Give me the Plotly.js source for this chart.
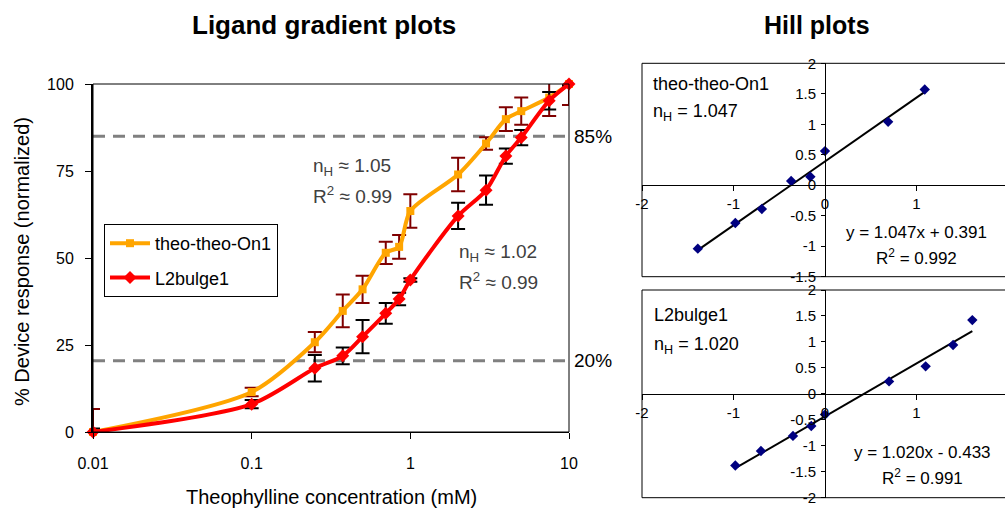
<!DOCTYPE html>
<html><head><meta charset="utf-8">
<script src="https://cdn.plot.ly/plotly-3.0.1.min.js"></script>
<style>html,body{margin:0;padding:0;overflow:hidden;background:#fff}</style>
</head><body><div id="chart" style="width:1012px;height:509px"></div>
<script>
// ---------- data ----------
const concentration = [0.01, 0.1, 0.25, 0.375, 0.5, 0.7, 0.85, 1, 2, 3, 4, 5, 7.5, 10];
const theoResponse  = [0, 11.5, 25.8, 34.8, 41.0, 51.5, 53.2, 63.5, 74.0, 82.9, 89.9, 92.2, 96.1, 100];
const theoErrPlus   = [6.6, 1.2, 2.9, 4.7, 3.9, 3.2, 3.4, 4.8, 4.8, 1.8, 3.4, 3.9, 5.3, 0];
const theoErrMinus  = [0, 1.2, 2.9, 4.7, 3.9, 3.2, 3.4, 4.8, 4.8, 1.8, 3.4, 3.9, 5.3, 6.0];
const l2Response    = [0, 8.0, 18.3, 21.9, 27.4, 34.1, 38.2, 43.7, 62.1, 69.5, 79.3, 84.6, 95.2, 100];
const l2ErrPlus     = [1.0, 1.2, 3.8, 2.4, 4.8, 3.0, 1.8, 0.5, 3.8, 4.2, 2.2, 2.2, 2.5, 0.5];
const l2ErrMinus    = [0, 1.2, 3.8, 2.4, 4.8, 3.0, 1.8, 0.5, 3.8, 4.2, 2.2, 2.2, 2.5, 0.5];
const seriesNames   = ["theo-theo-On1", "L2bulge1"];

const concTicks     = [0.01, 0.1, 1, 10];
const concTickText  = ["0.01", "0.1", "1", "10"];
const responseTicks = [0, 25, 50, 75, 100];
const thresholdLevels = [85, 20.5];
const thresholdLabels = ["85%", "20%"];

const theoLnConc = [-1.39, -0.98, -0.69, -0.37, -0.16, 0, 0.69, 1.09];
const theoHillY  = [-1.04, -0.62, -0.39, 0.07, 0.14, 0.56, 1.04, 1.57];
const l2LnConc   = [-0.98, -0.70, -0.35, -0.15, 0, 0.70, 1.10, 1.40, 1.61];
const l2HillY    = [-1.38, -1.10, -0.81, -0.62, -0.40, 0.24, 0.53, 0.94, 1.42];
const theoFit = {slope: 1.047, intercept: 0.391};
const l2Fit   = {slope: 1.020, intercept: -0.433};

const hillXTicks = [-2, -1, 0, 1, 2];
const hillXTickText = ["-2", "-1", "0", "1", "2"];
const hill1YTicks = [-1.5, -1, -0.5, 0, 0.5, 1, 1.5, 2];
const hill1YTickText = ["-1.5", "-1", "-0.5", "0", "0.5", "1", "1.5", "2"];
const hill2YTicks = [-2, -1.5, -1, -0.5, 0, 0.5, 1, 1.5, 2];
const hill2YTickText = ["-2", "-1.5", "-1", "-0.5", "0", "0.5", "1", "1.5", "2"];

// ---------- layout helpers ----------
const W = 1012, H = 509;
const px = v => v / W;
const py = v => 1 - v / H;
const FONT = "Liberation Sans, Arial, sans-serif";

function fitLine(xs, fit) {
  const x0 = Math.min(...xs), x1 = Math.max(...xs);
  return {x: [x0, x1], y: [fit.slope * x0 + fit.intercept, fit.slope * x1 + fit.intercept]};
}
const t1 = fitLine(theoLnConc, theoFit);
const t2 = fitLine(l2LnConc, l2Fit);

const traces = [
  {x: concentration, y: theoResponse, name: seriesNames[0], mode: "lines+markers",
   xaxis: "x", yaxis: "y", cliponaxis: false, legendgroup: "a",
   line: {color: "#FFA500", width: 4, shape: "spline", smoothing: 0.8},
   marker: {symbol: "square", size: 8, color: "#FFA500"},
   error_y: {type: "data", symmetric: false, array: theoErrPlus, arrayminus: theoErrMinus,
             color: "#800000", thickness: 2, width: 7}},
  {x: concentration, y: l2Response, name: seriesNames[1], mode: "lines+markers",
   xaxis: "x", yaxis: "y", cliponaxis: false, legendgroup: "b",
   line: {color: "#FF0000", width: 4, shape: "spline", smoothing: 0.8},
   marker: {symbol: "diamond", size: 10, color: "#FF0000"},
   error_y: {type: "data", symmetric: false, array: l2ErrPlus, arrayminus: l2ErrMinus,
             color: "#000000", thickness: 2, width: 7}},
  {x: t1.x, y: t1.y, mode: "lines", xaxis: "x2", yaxis: "y2", showlegend: false,
   line: {color: "#000", width: 2}},
  {x: theoLnConc, y: theoHillY, mode: "markers", xaxis: "x2", yaxis: "y2", showlegend: false,
   marker: {symbol: "diamond", size: 8, color: "#000080"}},
  {x: t2.x, y: t2.y, mode: "lines", xaxis: "x3", yaxis: "y3", showlegend: false,
   line: {color: "#000", width: 2}},
  {x: l2LnConc, y: l2HillY, mode: "markers", xaxis: "x3", yaxis: "y3", showlegend: false,
   marker: {symbol: "diamond", size: 8, color: "#000080"}}
];

// hill subplot geometry
const h1 = {xd: [px(642), px(1008)], yd: [py(276.7), py(63.3)], xr: [-2, 2], yr: [-1.5, 2]};
const h2 = {xd: [px(642), px(1008)], yd: [py(497.7), py(290)], xr: [-2, 2], yr: [-2, 2]};
const zeroPos = (dom, rng) => dom[0] + (0 - rng[0]) / (rng[1] - rng[0]) * (dom[1] - dom[0]);

function hillX(h) {
  return {domain: h.xd, range: h.xr, anchor: "free", position: zeroPos(h.yd, h.yr),
    tickvals: hillXTicks, ticktext: hillXTickText, ticks: "outside", ticklen: 5, tickcolor: "#000",
    showline: true, linecolor: "#000", linewidth: 1, showgrid: false, zeroline: false,
    tickfont: {size: 15, color: "#000", family: FONT}};
}
function hillY(h, tv, tt) {
  return {domain: h.yd, range: h.yr, anchor: "free", position: zeroPos(h.xd, h.xr),
    tickvals: tv, ticktext: tt, ticks: "outside", ticklen: 4, tickcolor: "#000",
    showline: true, linecolor: "#000", linewidth: 1, showgrid: false, zeroline: false,
    tickfont: {size: 15, color: "#000", family: FONT}, ticklabelstandoff: 2};
}

const shapes = [
  {type: "rect", xref: "x domain", yref: "y domain", x0: 0, x1: 1, y0: 0, y1: 1,
   line: {color: "#000", width: 1}},
  {type: "rect", xref: "x2 domain", yref: "y2 domain", x0: 0, x1: 1, y0: 0, y1: 1,
   line: {color: "#000", width: 1}},
  {type: "rect", xref: "x3 domain", yref: "y3 domain", x0: 0, x1: 1, y0: 0, y1: 1,
   line: {color: "#000", width: 1}}
];
thresholdLevels.forEach(v => shapes.push({type: "line", xref: "x domain", x0: 0, x1: 1,
  yref: "y", y0: v, y1: v, layer: "below", line: {color: "#808080", width: 3, dash: "12px,8px"}}));

const gray = "#404040";
const annotations = [
  {text: "<b>Ligand gradient plots</b>", x: px(324), y: py(25), font: {size: 26, color: "#000"}},
  {text: "<b>Hill plots</b>", x: px(817), y: py(25), font: {size: 25, color: "#000"}},
  {text: "Theophylline concentration (mM)", x: px(331), y: py(497), font: {size: 20, color: "#000"}},
  {text: "% Device response (normalized)", x: px(22), y: py(262), textangle: -90, font: {size: 20, color: "#000"}},
  {text: "n<sub>H</sub> ≈ 1.05", x: px(311), y: py(167), xanchor: "left", font: {size: 19, color: gray}},
  {text: "R<sup>2</sup> ≈ 0.99", x: px(311), y: py(195), xanchor: "left", font: {size: 19, color: gray}},
  {text: "n<sub>H</sub> ≈ 1.02", x: px(457), y: py(253), xanchor: "left", font: {size: 19, color: gray}},
  {text: "R<sup>2</sup> ≈ 0.99", x: px(457), y: py(281), xanchor: "left", font: {size: 19, color: gray}},
  {text: "theo-theo-On1", x: px(651), y: py(84), xanchor: "left", font: {size: 18, color: "#000"}},
  {text: "n<sub>H</sub> = 1.047", x: px(651), y: py(113), xanchor: "left", font: {size: 18, color: "#000"}},
  {text: "y = 1.047x + 0.391", x: px(916), y: py(232), font: {size: 17, color: "#000"}},
  {text: "R<sup>2</sup> = 0.992", x: px(916), y: py(257), font: {size: 17, color: "#000"}},
  {text: "L2bulge1", x: px(652), y: py(315), xanchor: "left", font: {size: 18, color: "#000"}},
  {text: "n<sub>H</sub> = 1.020", x: px(652), y: py(345), xanchor: "left", font: {size: 18, color: "#000"}},
  {text: "y = 1.020x - 0.433", x: px(922), y: py(452), font: {size: 17, color: "#000"}},
  {text: "R<sup>2</sup> = 0.991", x: px(922), y: py(477), font: {size: 17, color: "#000"}}
].map(a => Object.assign({xref: "paper", yref: "paper", showarrow: false, xanchor: "center", yanchor: "middle"}, a));
thresholdLevels.forEach((v, i) => annotations.push({text: thresholdLabels[i], xref: "paper", yref: "y",
  x: px(572), y: v, xanchor: "left", yanchor: "middle", showarrow: false, font: {size: 19, color: "#000"}}));

const layout = {
  width: W, height: H, margin: {l: 0, r: 0, t: 0, b: 0},
  paper_bgcolor: "#fff", plot_bgcolor: "rgba(0,0,0,0)",
  font: {family: FONT, color: "#000"},
  showlegend: true,
  legend: {x: px(104), y: py(224), xanchor: "left", yanchor: "top", bordercolor: "#000", borderwidth: 1,
           bgcolor: "#fff", font: {size: 18, color: "#000"}, traceorder: "grouped", tracegroupgap: 8,
           itemwidth: 40},
  xaxis: {domain: [px(93), px(569)], type: "log", range: [-2, 1], anchor: "y",
    tickvals: concTicks, ticktext: concTickText, ticks: "outside", ticklen: 6, tickcolor: "#000",
    showline: true, linecolor: "#000", linewidth: 1, showgrid: false, zeroline: false,
    tickfont: {size: 16, color: "#000"}, ticklabelstandoff: 11},
  yaxis: {domain: [py(432), py(84)], range: [0, 100], anchor: "x",
    tickvals: responseTicks, ticks: "outside", ticklen: 6, tickcolor: "#000",
    showline: true, linecolor: "#000", linewidth: 2, showgrid: false, zeroline: false,
    tickfont: {size: 16, color: "#000"}, ticklabelstandoff: 8},
  xaxis2: hillX(h1), yaxis2: hillY(h1, hill1YTicks, hill1YTickText),
  xaxis3: hillX(h2), yaxis3: hillY(h2, hill2YTicks, hill2YTickText),
  shapes: shapes, annotations: annotations
};

Plotly.newPlot("chart", traces, layout, {staticPlot: true, displayModeBar: false});
</script></body></html>
